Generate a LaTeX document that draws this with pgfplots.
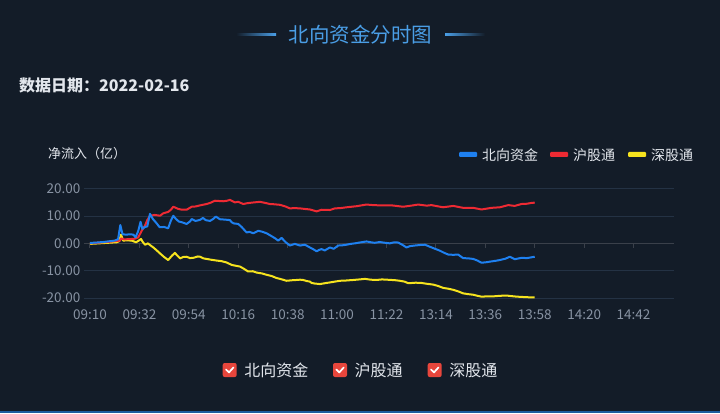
\documentclass[border=0pt]{standalone}
\usepackage{fontspec}
\setmainfont{Noto Sans CJK SC}
\usepackage{pgfplots}
\pgfplotsset{compat=1.18}
\definecolor{bgc}{HTML}{131C28}
\definecolor{gridc}{HTML}{243244}
\definecolor{axisc}{HTML}{3A404A}
\definecolor{tickc}{HTML}{8893A3}
\definecolor{titlec}{HTML}{4A9EE6}
\definecolor{blueS}{HTML}{1E80F0}
\definecolor{redS}{HTML}{EE2A33}
\definecolor{yelS}{HTML}{F6E31E}
\definecolor{chk}{HTML}{E8463C}
\definecolor{txtc}{HTML}{E2E6EC}
\definecolor{botc}{HTML}{1D5C9E}
\begin{document}
\begin{tikzpicture}[x=1pt,y=1pt]
\path[use as bounding box, fill=bgc] (0,0) rectangle (720,413);
\fill[botc] (0,0) rectangle (720,2);
% title
\shade[left color=bgc, right color=titlec] (236,377) rectangle (276,379);
\shade[left color=titlec, right color=bgc] (445,377) rectangle (485,379);
\node[inner sep=0, text=titlec, font=\fontsize{20.5}{24}\selectfont] at (360.5,378) {北向资金分时图};
\node[inner sep=0, anchor=west, text=txtc, font=\fontsize{16}{18}\selectfont\bfseries] at (19,328) {数据日期：2022-02-16};
\node[inner sep=0, anchor=west, text=txtc, font=\fontsize{13}{15}\selectfont] at (48,259) {净流入（亿）};
% top legend
\fill[blueS, rounded corners=1pt] (459,256) rectangle (477,261);
\node[inner sep=0, anchor=west, text=txtc, font=\fontsize{14}{16}\selectfont] at (482,258) {北向资金};
\fill[redS, rounded corners=1pt] (550,256) rectangle (568,261);
\node[inner sep=0, anchor=west, text=txtc, font=\fontsize{14}{16}\selectfont] at (573,258) {沪股通};
\fill[yelS, rounded corners=1pt] (628,256) rectangle (646,261);
\node[inner sep=0, anchor=west, text=txtc, font=\fontsize{14}{16}\selectfont] at (651,258) {深股通};
% bottom legend
\foreach \cx/\lab in {222.7/北向资金, 333/沪股通, 427.7/深股通}{
  \fill[chk, rounded corners=2pt] (\cx,36) rectangle ({\cx+14},50);
  \draw[white, line width=1.7pt, line cap=round, line join=round] ({\cx+3.2},43.6) -- ({\cx+6.3},40.6) -- ({\cx+10.8},45.6);
  \node[inner sep=0, anchor=west, text=txtc, font=\fontsize{16}{18}\selectfont] at ({\cx+21.5},42.5) {\lab};
}
\begin{axis}[
  at={(84pt,115pt)}, anchor=south west,
  scale only axis, width=590pt, height=109.3pt,
  xmin=-2.67, xmax=260, ymin=-20, ymax=20,
  axis line style={draw=none},
  xtick={0,22,44,66,88,110,132,154,176,198,220,242},
  xticklabels={09:10,09:32,09:54,10:16,10:38,11:00,11:22,13:14,13:36,13:58,14:20,14:42},
  ytick={-20,-10,0,10,20},
  yticklabels={-20.00,-10.00,0.00,10.00,20.00},
  major tick length=0pt,
  ymajorgrids, grid style={color=gridc, line width=1pt},
  /pgf/number format/assume math mode=true,
  tick label style={font=\fontsize{13.5}{15}\selectfont, text=tickc},
  xticklabel style={yshift=-8pt},
  yticklabel style={xshift=0pt},
  every axis plot/.append style={line width=2pt, line join=round, mark=none},
]
\draw[axisc, line width=1pt] (axis cs:-2.67,0) -- (axis cs:260,0);
\pgfplotsinvokeforeach{0,22,44,66,88,110,132,154,176,198,220,242}{
  \draw[axisc, line width=1pt] (axis cs:#1,0) -- ++(0pt,-4.5pt);
}
% 深股通
\addplot[yelS] coordinates {
(0,-0.2)(4,0)(8,0.2)(11.9,0.4)(13,0.8)(13.8,3.2)(14.8,1.0)(16.5,1.1)(18.6,1.0)(20.5,0.4)(21.5,0.9)(22.7,1.6)(23.5,0.5)(24.5,-0.5)(25.8,0)(27,-0.8)(28.2,-1.5)(30,-2.8)(31.2,-3.7)(33,-5.0)(34.8,-6.1)(36.5,-4.5)(37.8,-3.5)(39,-4.6)(40.1,-5.5)(41.5,-5.0)(43,-4.9)(44.5,-5.4)(46,-5.3)(48,-4.8)(49,-4.9)(50.5,-5.5)(51.9,-5.7)(54,-6.0)(56.4,-6.3)(58.5,-6.5)(60.8,-7.0)(63.1,-7.9)(66.8,-8.5)(68.5,-9.3)(70.4,-10.3)(72.5,-10.2)(74.2,-10.7)(76.5,-11.0)(78.6,-11.5)(81,-12.0)(83.1,-12.7)(85.5,-13.2)(87.5,-13.7)(90,-13.5)(92,-13.4)(93.5,-13.3)(94.9,-13.4)(96.5,-13.8)(97.9,-14.0)(98.7,-14.5)(100,-14.7)(102.4,-14.9)(104.5,-14.6)(106.8,-14.3)(109,-14.0)(111.3,-13.7)(114,-13.6)(117.2,-13.4)(120,-13.2)(122.4,-13.0)(125,-13.3)(127.6,-13.4)(130,-13.2)(134.3,-13.4)(136,-13.5)(138,-13.7)(140,-14.0)(141.7,-14.6)(145,-14.4)(147.6,-14.5)(150,-14.8)(152.8,-15.1)(155,-15.6)(157.2,-16.3)(159.5,-16.6)(161.7,-17.0)(164,-17.6)(166.1,-18.3)(168.5,-18.6)(170.6,-18.8)(172.5,-19.2)(174.3,-19.5)(177,-19.4)(179.5,-19.4)(182.5,-19.2)(185.4,-19.1)(187.5,-19.3)(189.9,-19.5)(192,-19.6)(194.5,-19.7)(196.6,-19.8)(198,-19.8)
};
% 沪股通
\addplot[redS] coordinates {
(0,0)(3,0.2)(6,0.4)(9,0.6)(12,0.9)(13.4,1.0)(13.8,1.8)(15,1.5)(16.3,1.5)(18.6,1.6)(20,1.7)(21.5,2.2)(23,4.6)(24.5,6.5)(25.5,8.5)(26.7,10.1)(28.9,10.4)(31.2,10.1)(32.6,11.0)(34.8,11.5)(36,12.3)(37.1,13.4)(39.3,12.6)(41,12.3)(43,12.3)(45.3,13.4)(47,13.5)(49,13.9)(51.9,14.4)(53.5,14.8)(55.6,15.6)(57.5,15.5)(59.3,15.4)(61,15.6)(62.3,15.9)(64.5,15.0)(66,15.2)(68.2,14.4)(70,14.7)(72,14.9)(75.7,15.2)(78,14.8)(80.1,14.4)(82,14.3)(84.6,14.1)(87,13.5)(89,12.8)(91,12.9)(93.5,12.8)(95.5,12.6)(97.9,12.4)(100.9,11.7)(103.1,12.3)(106.8,12.2)(109,12.8)(111.5,12.9)(114.2,13.2)(118.7,13.6)(123.1,14.2)(126,14.0)(129.1,13.9)(134.3,13.9)(139.4,13.4)(143,13.8)(146.1,14.2)(149.9,13.8)(152,14.0)(157.2,13.2)(161.7,13.7)(166.1,13.0)(170.6,13.0)(174.3,12.4)(178.8,13.0)(182.5,13.2)(186.2,14.0)(189.1,13.7)(192.1,14.4)(194.5,14.5)(196.6,14.8)(198,14.9)
};
% 北向资金
\addplot[blueS] coordinates {
(0,0.15)(3,0.3)(6,0.5)(9,0.8)(11,1.0)(12.5,1.5)(13.5,6.7)(14.5,3.3)(16,3.2)(18,3.3)(19.3,3.2)(20.3,2.2)(21.5,4.6)(22.5,7.9)(23.3,5.3)(24.5,6.0)(25.5,6.2)(26.7,10.8)(28,8.9)(29.5,7.5)(31,5.9)(33,6.0)(34.8,5.5)(36,8.3)(37.1,10.1)(38.2,9.0)(39.5,8.0)(41,7.7)(43,7.1)(44.5,8.0)(45.3,8.9)(47,8.2)(49,8.6)(50.3,9.3)(51.5,8.5)(53.4,8.2)(55,9.0)(56,9.8)(57.9,8.8)(60,8.7)(62.3,8.5)(63.1,7.7)(64,7.3)(66,7.1)(67.5,6.0)(69.7,4.0)(71,4.2)(72.7,3.7)(74.9,4.6)(76.5,4.3)(78.6,3.7)(80.9,2.6)(82.5,1.8)(83.8,1.0)(85.3,2.0)(87,0.5)(89,-0.8)(91.2,-0.2)(93.5,-0.8)(95.7,-0.5)(97.9,-1.5)(99.5,-2.2)(100.9,-2.9)(102,-2.4)(103.1,-2.1)(104.5,-2.6)(106.8,-1.5)(108.5,-2.0)(110.5,-0.8)(112.5,-0.7)(114.2,-0.5)(116,-0.2)(117.9,0)(120,0.3)(123.1,0.7)(125,0.4)(126.8,0.2)(129,0.5)(130.5,0.3)(133.5,0)(135.5,0.4)(137.2,0.3)(139,-0.5)(140.9,-1.5)(142.5,-1.0)(144.6,-0.8)(147,-0.6)(149.1,-0.5)(152.1,-1.5)(155.8,-2.7)(157.5,-3.4)(159.5,-4.1)(161.7,-4.2)(163.9,-4.1)(166.1,-5.4)(168.5,-5.5)(170.6,-5.7)(172.5,-6.3)(174.3,-7.1)(176.5,-6.9)(178.8,-6.6)(180.5,-6.4)(182.5,-6.1)(185,-5.6)(186.9,-4.9)(189.1,-5.8)(192.1,-5.3)(194.5,-5.4)(196.6,-5.1)(198,-4.9)
};
\end{axis}
\end{tikzpicture}
\end{document}
